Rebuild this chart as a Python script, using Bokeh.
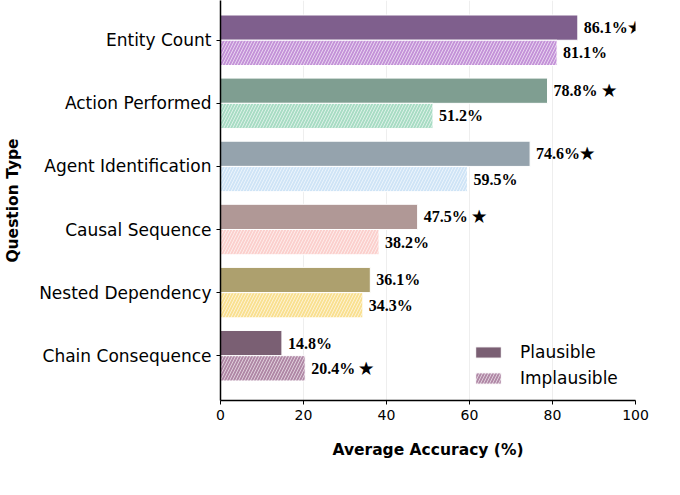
from bokeh.plotting import figure
from bokeh.models import FixedTicker, Legend, LegendItem, ColumnDataSource, LabelSet
from bokeh.embed import file_html
from bokeh.resources import INLINE

categories = ["Entity Count", "Action Performed", "Agent Identification",
              "Causal Sequence", "Nested Dependency", "Chain Consequence"]
plausible = [86.1, 78.8, 74.6, 47.5, 36.1, 14.8]
implausible = [81.1, 51.2, 59.5, 38.2, 34.3, 20.4]
plaus_labels = ["86.1%★", "78.8% ★", "74.6%★", "47.5% ★", "36.1%", "14.8%"]
impl_labels = ["81.1%", "51.2%", "59.5%", "38.2%", "34.3%", "20.4% ★"]
plaus_colors = ["#7f5f8d", "#7f9e91", "#95a3ad", "#b09896", "#ada06e", "#7a5f73"]
impl_colors = ["#c493d8", "#a8dcc4", "#cfe4f6", "#fbd0cd", "#f9e091", "#b088a6"]

n = len(categories)
ypos = [n - 1 - i for i in range(n)]
FONT = "DejaVu Sans"

p = figure(width=664, height=479, output_backend="svg", toolbar_location=None,
           x_range=(0, 100), y_range=(-0.71, 5.63),
           min_border_left=220, min_border_right=29, min_border_top=0, min_border_bottom=79)
p.outline_line_color = None
p.ygrid.grid_line_color = None
p.xgrid.grid_line_color = "#eeeeee"

ps = ColumnDataSource(dict(y=[v + 0.2 for v in ypos], x=plausible, c=plaus_colors, t=plaus_labels))
isrc = ColumnDataSource(dict(y=[v - 0.2 for v in ypos], x=implausible, c=impl_colors, t=impl_labels))

r1 = p.hbar(y="y", right="x", left=0, height=0.4, fill_color="c", line_color="white",
            line_width=1, source=ps)
r2 = p.hbar(y="y", right="x", left=0, height=0.4, fill_color="c", line_color="white",
            line_width=1, hatch_pattern="right_diagonal_line", hatch_color="white",
            hatch_alpha=0.6, hatch_scale=6, hatch_weight=1, source=isrc)

for src in (ps, isrc):
    p.add_layout(LabelSet(x="x", y="y", text="t", source=src, x_offset=6, text_baseline="middle",
                          text_font=FONT, text_font_style="bold", text_font_size="16px",
                          text_color="black"))

leg = Legend(items=[LegendItem(label="Plausible", renderers=[r1], index=5),
                    LegendItem(label="Implausible", renderers=[r2], index=5)],
             location=(252, 12), border_line_color=None, background_fill_alpha=0,
             label_text_font=FONT, label_text_font_size="17px", label_text_color="black",
             glyph_width=32, glyph_height=14, spacing=6, label_standoff=16)
p.add_layout(leg, "center")

p.yaxis.ticker = FixedTicker(ticks=ypos)
p.yaxis.major_label_overrides = {y: c for y, c in zip(ypos, categories)}
p.yaxis.major_label_text_font = FONT
p.yaxis.major_label_text_font_size = "17px"
p.yaxis.major_label_text_color = "black"
p.yaxis.axis_label = "Question Type"
p.yaxis.axis_label_text_font = FONT
p.yaxis.axis_label_text_font_style = "bold"
p.yaxis.axis_label_text_font_size = "15.5px"
p.yaxis.axis_label_text_color = "black"
p.yaxis.axis_label_standoff = 14
p.yaxis.minor_tick_line_color = None
p.yaxis.major_tick_out = 4
p.yaxis.major_tick_in = 0

p.xaxis.ticker = FixedTicker(ticks=[0, 20, 40, 60, 80, 100])
p.xaxis.major_label_text_font = FONT
p.xaxis.major_label_text_font_size = "14px"
p.xaxis.major_label_text_color = "black"
p.xaxis.axis_label = "Average Accuracy (%)"
p.xaxis.axis_label_text_font = FONT
p.xaxis.axis_label_text_font_style = "bold"
p.xaxis.axis_label_text_font_size = "15.5px"
p.xaxis.axis_label_text_color = "black"
p.xaxis.axis_label_standoff = 18
p.xaxis.minor_tick_line_color = None
p.xaxis.major_tick_out = 4
p.xaxis.major_tick_in = 0
for ax in (p.xaxis, p.yaxis):
    ax.axis_line_color = "black"
    ax.axis_line_width = 1.5
    ax.major_tick_line_color = "black"

open("out.html", "w").write(file_html(p, INLINE))
